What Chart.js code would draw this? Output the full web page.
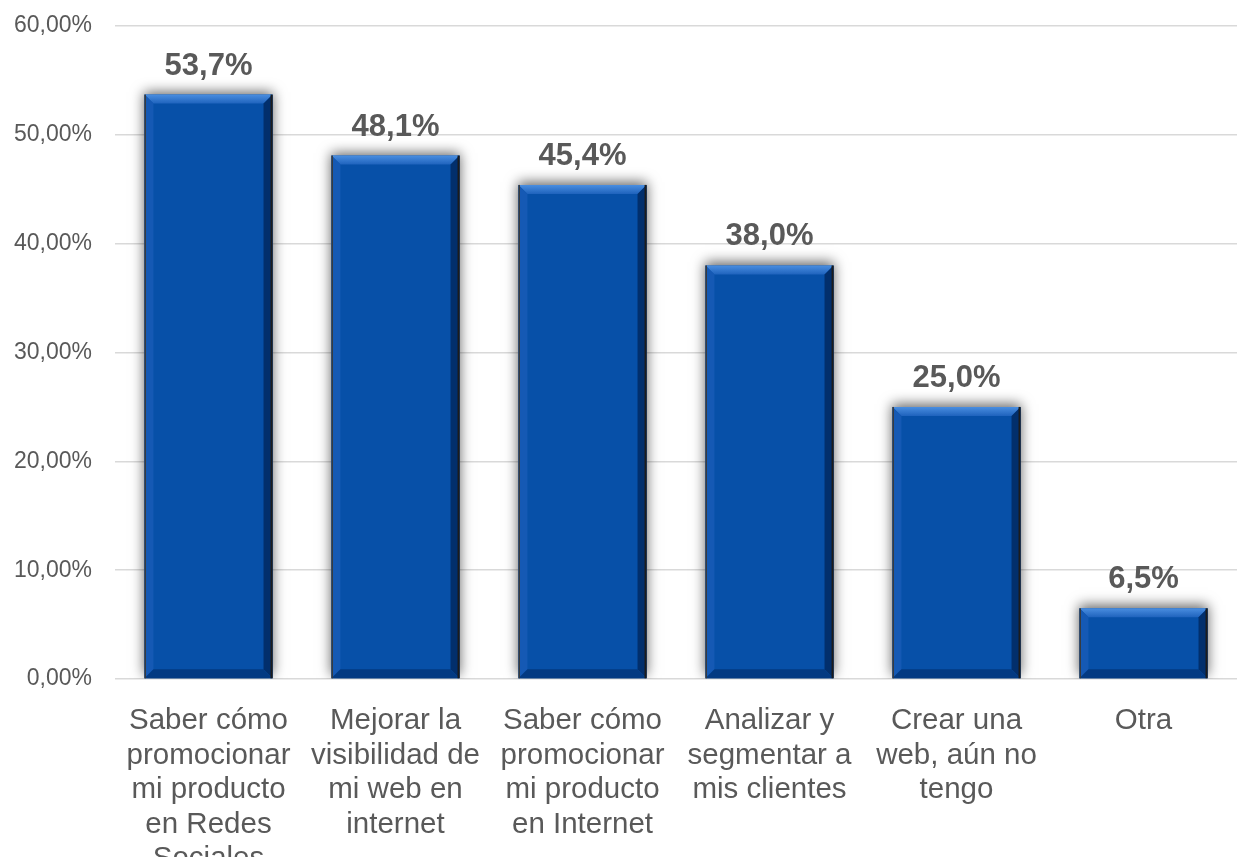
<!DOCTYPE html>
<html>
<head>
<meta charset="utf-8">
<script src="https://cdn.jsdelivr.net/npm/chart.js@4/dist/chart.umd.min.js"></script>
<style>
  body { margin: 0; background: #fff; }
</style>
</head>
<body>
<canvas id="chart" width="1237" height="857"></canvas>
<script>
const categories = [
    ['Saber cómo', 'promocionar', 'mi producto', 'en Redes', 'Sociales'],
    ['Mejorar la', 'visibilidad de', 'mi web en', 'internet'],
    ['Saber cómo', 'promocionar', 'mi producto', 'en Internet'],
    ['Analizar y', 'segmentar a', 'mis clientes'],
    ['Crear una', 'web, aún no', 'tengo'],
    ['Otra']
];
const values = [53.7, 48.1, 45.4, 38.0, 25.0, 6.5];
const valueLabels = ['53,7%', '48,1%', '45,4%', '38,0%', '25,0%', '6,5%'];

const FONT = 'Arial, "Liberation Sans", sans-serif';
const TEXT_COLOR = '#595959';

// soft grey glow behind the bars
const shadowPlugin = {
    id: 'barShadow',
    beforeDatasetsDraw(chart) {
        const ctx = chart.ctx;
        ctx.save();
        ctx.shadowColor = 'rgba(0,0,0,0.6)';
        ctx.shadowBlur = 12;
        ctx.shadowOffsetX = 0;
        ctx.shadowOffsetY = -3;
    },
    afterDatasetsDraw(chart) {
        chart.ctx.restore();
    }
};

// bevel edges + value labels
const bevelPlugin = {
    id: 'bevel',
    afterDatasetsDraw(chart) {
        const ctx = chart.ctx;
        const meta = chart.getDatasetMeta(0);
        meta.data.forEach((bar, i) => {
            const l = bar.x - bar.width / 2;
            const r = bar.x + bar.width / 2;
            const t = bar.y;
            const b = bar.base;
            const s = Math.min(9, (b - t) / 2);
            const face = (pts, color) => {
                ctx.beginPath();
                ctx.moveTo(pts[0][0], pts[0][1]);
                for (let k = 1; k < pts.length; k++) ctx.lineTo(pts[k][0], pts[k][1]);
                ctx.closePath();
                ctx.fillStyle = color;
                ctx.fill();
            };
            ctx.save();
            const topGrad = ctx.createLinearGradient(0, t, 0, t + s);
            topGrad.addColorStop(0, '#4a8ee0');
            topGrad.addColorStop(1, '#1f63bd');
            face([[l, t], [r, t], [r - s, t + s], [l + s, t + s]], topGrad);
            face([[l, t], [l + s, t + s], [l + s, b - s], [l, b]], '#1559b4');
            face([[r, t], [r, b], [r - s, b - s], [r - s, t + s]], '#022f6c');
            face([[l, b], [l + s, b - s], [r - s, b - s], [r, b]], '#033a82');
            ctx.fillStyle = '#1c1c1c';
            ctx.fillRect(r - 2, t, 2, b - t);
            ctx.fillStyle = '#3a3a3a';
            ctx.fillRect(l, t, 1.5, b - t);

            ctx.font = 'bold 31px ' + FONT;
            ctx.fillStyle = TEXT_COLOR;
            ctx.textAlign = 'center';
            ctx.textBaseline = 'bottom';
            ctx.fillText(valueLabels[i], bar.x, t - 13);
            ctx.restore();
        });
    }
};

new Chart(document.getElementById('chart').getContext('2d'), {
    type: 'bar',
    data: {
        labels: categories,
        datasets: [{
            data: values,
            backgroundColor: '#0750a8',
            borderWidth: 0,
            barPercentage: 0.685,
            categoryPercentage: 1
        }]
    },
    options: {
        responsive: false,
        animation: false,
        layout: { padding: { top: 26, right: 0, bottom: 0, left: 0 } },
        plugins: {
            legend: { display: false },
            tooltip: { enabled: false }
        },
        scales: {
            x: {
                grid: { display: false },
                border: { display: false },
                ticks: {
                    color: TEXT_COLOR,
                    font: { family: FONT, size: 29.5, lineHeight: 1.17 },
                    padding: 17,
                    maxRotation: 0,
                    autoSkip: false
                },
                afterFit(scale) {
                    scale.height = 178;
                    scale.paddingLeft = 0;
                    scale.paddingRight = 0;
                }
            },
            y: {
                min: 0,
                max: 60,
                grid: { color: '#d9d9d9', lineWidth: 1.5, drawTicks: false },
                border: { display: false },
                ticks: {
                    stepSize: 10,
                    color: TEXT_COLOR,
                    padding: 23,
                    font: { family: FONT, size: 23 },
                    callback: v => v.toFixed(2).replace('.', ',') + '%'
                },
                afterFit(scale) {
                    scale.width = 115;
                    scale.paddingTop = 0;
                    scale.paddingBottom = 0;
                }
            }
        }
    },
    plugins: [shadowPlugin, bevelPlugin]
});
</script>
</body>
</html>
